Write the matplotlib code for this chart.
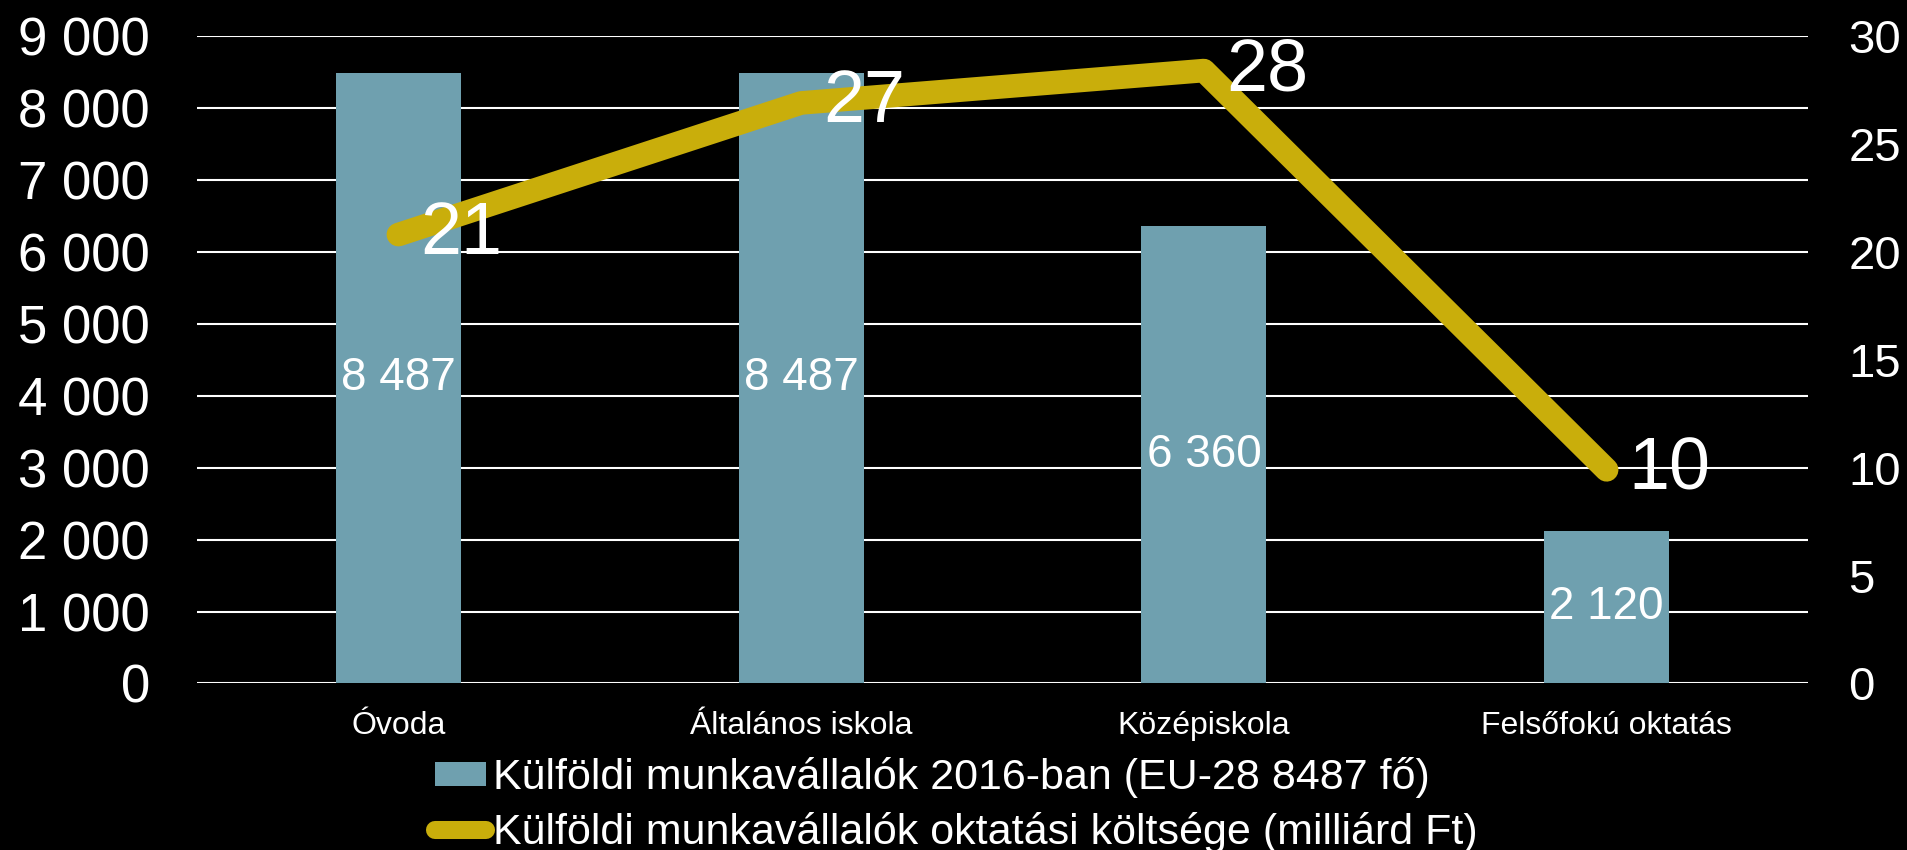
import matplotlib
matplotlib.use("Agg")
import matplotlib.pyplot as plt
from matplotlib.patches import Patch
from matplotlib.lines import Line2D
from matplotlib.ticker import FuncFormatter

plt.rcParams['font.family'] = ['Liberation Sans', 'DejaVu Sans']

# data
categories = ['Óvoda', 'Általános iskola', 'Középiskola', 'Felsőfokú oktatás']
workers = [8487, 8487, 6360, 2120]
cost = [20.8, 26.9, 28.4, 9.9]
bar_name = 'Külföldi munkavállalók 2016-ban (EU-28 8487 fő)'
line_name = 'Külföldi munkavállalók oktatási költsége (milliárd Ft)'

bar_color = '#6FA0AF'
line_color = '#C9AE0B'


def space_thousands(v, pos=None):
    return f"{v:,.0f}".replace(",", " ")


fig = plt.figure(figsize=(19.07, 8.5), dpi=100, facecolor='black')
ax = fig.add_axes([0.1033, 0.1959, 0.8448, 0.7617])
ax.set_facecolor('black')

x = range(len(categories))
bars = ax.bar(x, workers, width=0.31, color=bar_color, zorder=2)
ax.bar_label(bars, labels=[space_thousands(v) for v in workers],
             label_type='center', color='white', fontsize=33)

ax.set_xlim(-0.5, len(categories) - 0.5)
ax.set_ylim(0, 9000)
ax.set_yticks(range(0, 9001, 1000))
ax.yaxis.set_major_formatter(FuncFormatter(space_thousands))
ax.grid(axis='y', color='white', linewidth=1.5)
ax.set_axisbelow(True)
ax.set_xticks(list(x))
ax.set_xticklabels(categories, fontsize=23, color='white')
ax.tick_params(axis='x', length=0, pad=20)
ax.tick_params(axis='y', length=0, pad=34, labelsize=38, labelcolor='white')
for s in ax.spines.values():
    s.set_visible(False)

ax2 = ax.twinx()
ax2.plot(list(x), cost, color=line_color, linewidth=17,
         solid_capstyle='round', solid_joinstyle='round', zorder=3)
for xi, v in zip(x, cost):
    ax2.annotate(f"{v:.0f}", (xi, v), xytext=(16, 0), textcoords='offset points',
                 ha='left', va='center', fontsize=53, color='white')
ax2.set_ylim(0, 30)
ax2.set_yticks(range(0, 31, 5))
ax2.tick_params(axis='y', length=0, pad=29, labelsize=34, labelcolor='white')
for s in ax2.spines.values():
    s.set_visible(False)

handles = [Patch(facecolor=bar_color, edgecolor='none'),
           Line2D([0], [0], color=line_color, linewidth=13, solid_capstyle='round')]
leg = fig.legend(handles, [bar_name, line_name], loc='upper left',
                 bbox_to_anchor=(0.228, 0.109), frameon=False, fontsize=31,
                 handlelength=1.2, handleheight=0.51, handletextpad=0.15,
                 labelspacing=0.31, borderpad=0, borderaxespad=0)
for t in leg.get_texts():
    t.set_color('white')

fig.savefig('out.png', dpi=100, facecolor='black')
